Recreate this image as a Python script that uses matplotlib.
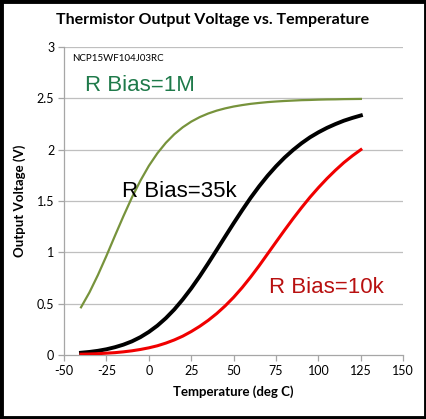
import matplotlib
matplotlib.use("Agg")
import matplotlib.pyplot as plt
from matplotlib.patches import Rectangle

temps = [-40, -35, -30, -25, -20, -15, -10, -5, 0, 5, 10, 15, 20, 25, 30, 35, 40,
         45, 50, 55, 60, 65, 70, 75, 80, 85, 90, 95, 100, 105, 110, 115, 120, 125]

v_1m = [0.463, 0.609, 0.779, 0.965, 1.160, 1.351, 1.533, 1.697, 1.842, 1.964, 2.066,
        2.150, 2.218, 2.273, 2.317, 2.352, 2.380, 2.402, 2.420, 2.434, 2.446, 2.455,
        2.463, 2.469, 2.474, 2.478, 2.482, 2.484, 2.487, 2.489, 2.490, 2.492, 2.493, 2.494]

v_35k = [0.020, 0.028, 0.039, 0.054, 0.074, 0.099, 0.131, 0.172, 0.223, 0.284, 0.357,
         0.442, 0.540, 0.648, 0.766, 0.892, 1.022, 1.153, 1.283, 1.409, 1.530, 1.642,
         1.745, 1.838, 1.922, 1.996, 2.062, 2.120, 2.169, 2.212, 2.249, 2.282, 2.309, 2.333]

v_10k = [0.006, 0.008, 0.011, 0.016, 0.021, 0.029, 0.039, 0.052, 0.068, 0.088, 0.114,
         0.145, 0.182, 0.227, 0.278, 0.336, 0.402, 0.477, 0.561, 0.655, 0.758, 0.868,
         0.984, 1.100, 1.215, 1.327, 1.434, 1.536, 1.630, 1.718, 1.799, 1.874, 1.940, 2.000]

x_ticks = [-50, -25, 0, 25, 50, 75, 100, 125, 150]
y_ticks = [0, 0.5, 1, 1.5, 2, 2.5, 3]
y_tick_labels = ["0", "0.5", "1", "1.5", "2", "2.5", "3"]

fig = plt.figure(figsize=(4.27, 4.19), dpi=100)
fig.patch.set_facecolor("white")
ax = fig.add_axes([0.150, 0.1532, 0.7945, 0.7346])

grid_c = "#BFBFBF"
for yv in y_ticks[1:]:
    ax.axhline(yv, color=grid_c, lw=0.9, zorder=0)

ax.plot(temps, v_1m, color="#77933C", lw=1.6, zorder=3)
ax.plot(temps, v_35k, color="black", lw=2.8, zorder=3)
ax.plot(temps, v_10k, color="#F00000", lw=2.2, zorder=3)

ax.set_xlim(-50, 150)
ax.set_ylim(0, 3)
ax.set_xticks(x_ticks)
ax.set_xticklabels([str(t) for t in x_ticks])
ax.set_yticks(y_ticks)
ax.set_yticklabels(y_tick_labels)

for s in ["top", "right"]:
    ax.spines[s].set_visible(False)
for s in ["left", "bottom"]:
    ax.spines[s].set_color("#A6A6A6")
    ax.spines[s].set_linewidth(0.9)
ax.tick_params(axis="both", colors="#A6A6A6", length=4, width=0.9, direction="out",
               labelcolor="black", labelsize=9, pad=3)
for lbl in ax.get_xticklabels() + ax.get_yticklabels():
    lbl.set_family("Lato")

ax.set_xlabel("Temperature (deg C)", fontsize=9.5, fontweight="bold", family="Lato", labelpad=6)
ax.set_ylabel("Output Voltage (V)", fontsize=9.5, fontweight="bold", family="Lato", labelpad=8)

fig.text(0.498, 0.952, "Thermistor Output Voltage vs. Temperature", ha="center", va="center",
         fontsize=11.5, fontweight="bold", family="Lato")

ax.text(-45.5, 2.89, "NCP15WF104J03RC", fontsize=7, family="Lato", va="center", ha="left")
ax.text(-37.5, 2.57, "R Bias=1M", fontsize=16, color="#1F7A4A", family="Liberation Sans",
        va="baseline", ha="left")
ax.text(-16, 1.54, "R Bias=35k", fontsize=16, color="black", family="Liberation Sans",
        va="baseline", ha="left")
ax.text(71, 0.60, "R Bias=10k", fontsize=16, color="#B81010", family="Liberation Sans",
        va="baseline", ha="left")

fig.add_artist(Rectangle((0.0035, 0.0035), 0.993, 0.993, transform=fig.transFigure,
                         fill=False, edgecolor="black", lw=3.5))

fig.savefig("out.png", dpi=100, facecolor="white")
